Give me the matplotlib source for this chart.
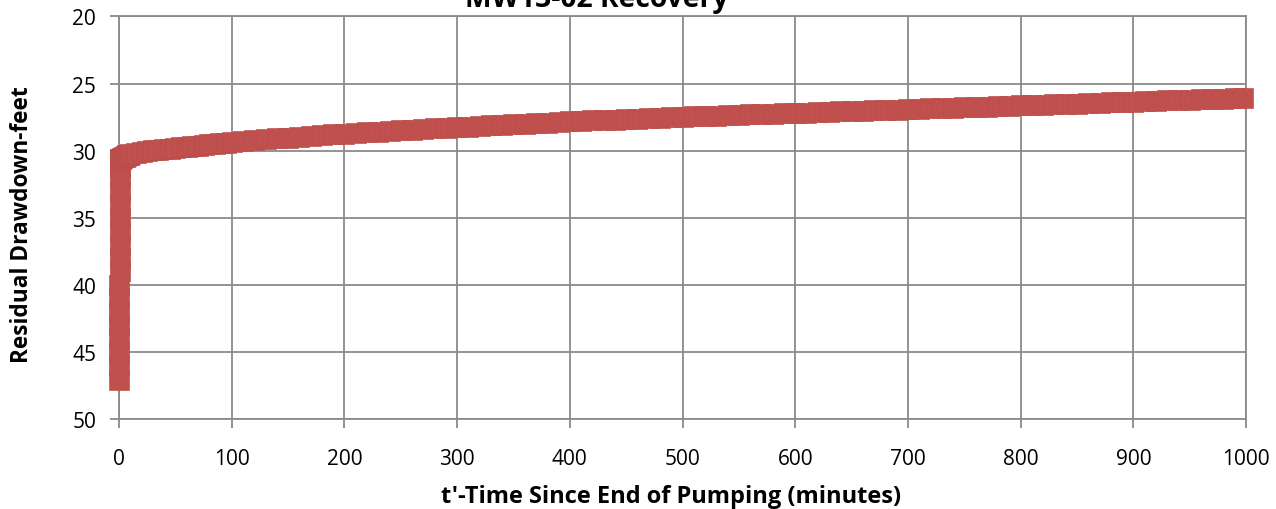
import numpy as np
import matplotlib.pyplot as plt

plt.rcParams['font.family'] = ['Open Sans', 'DejaVu Sans']

# recovery readings: time since pump off (min) and residual drawdown (ft)
t_early = [0.0, 0.05, 0.1, 0.15, 0.2, 0.25, 0.3, 0.35, 0.4, 0.45, 0.5,
           0.55, 0.6, 0.65, 0.7, 0.75, 0.8, 0.85]
s_early = [47.1, 46.0, 45.0, 44.0, 43.0, 42.0, 41.0, 40.0, 39.0, 38.0, 37.0,
           36.0, 35.0, 34.0, 33.0, 32.0, 31.2, 30.7]

t_first = [1, 2, 3, 4, 5, 6, 7, 8, 9, 10,
           15, 20, 25, 30, 35, 40, 45, 50, 55, 60,
           65, 70, 75, 80, 85, 90, 95]
s_first = [30.65, 30.60, 30.55, 30.50, 30.45, 30.40, 30.36, 30.32, 30.29, 30.25,
           30.17, 30.10, 30.04, 29.98, 29.93, 29.89, 29.84, 29.80, 29.75, 29.71,
           29.66, 29.62, 29.58, 29.53, 29.49, 29.45, 29.41]

t_late = list(range(100, 1000, 10)) + [997]
s_late = [29.37, 29.30, 29.23, 29.16, 29.09, 29.02, 28.96, 28.90, 28.84, 28.79,
          28.74, 28.69, 28.64, 28.58, 28.53, 28.48, 28.44, 28.39, 28.34, 28.30,
          28.25, 28.21, 28.16, 28.12, 28.08, 28.03, 27.99, 27.95, 27.91, 27.86,
          27.82, 27.78, 27.75, 27.71, 27.68, 27.64, 27.61, 27.57, 27.54, 27.50,
          27.47, 27.44, 27.41, 27.38, 27.36, 27.33, 27.30, 27.27, 27.24, 27.22,
          27.19, 27.16, 27.13, 27.10, 27.08, 27.05, 27.02, 26.99, 26.96, 26.94,
          26.91, 26.88, 26.85, 26.82, 26.80, 26.77, 26.74, 26.71, 26.68, 26.66,
          26.63, 26.60, 26.57, 26.54, 26.52, 26.49, 26.46, 26.43, 26.40, 26.38,
          26.35, 26.32, 26.29, 26.26, 26.24, 26.21, 26.18, 26.15, 26.12, 26.08,
          26.06]

t_min = t_early + t_first + t_late
drawdown = s_early + s_first + s_late

x_ticks = list(range(0, 1001, 100))
y_ticks = [20, 25, 30, 35, 40, 45, 50]

grid_col = '#8a8a8a'

fig = plt.figure(figsize=(12.76, 5.10), dpi=100)
ax = fig.add_axes([0.0933, 0.1765, 0.8832, 0.7892])

ax.plot(t_min, drawdown, 's', ms=14.2, mfc='#c0504d', mec='#ba4c49', mew=0.45,
        zorder=3, clip_on=False)

ax.set_xlim(0, 1000)
ax.set_ylim(50, 20)
ax.set_xticks(x_ticks)
ax.set_yticks(y_ticks)
ax.grid(True, color=grid_col, linewidth=1.3)
ax.set_axisbelow(True)
for sp in ax.spines.values():
    sp.set_color(grid_col)
    sp.set_linewidth(1.3)
ax.tick_params(direction='out', length=6.5, width=1.3, color=grid_col,
               labelsize=15)
ax.tick_params(axis='x', pad=14.5)
ax.tick_params(axis='y', pad=10)

fig.text(597 / 1276, 1 - 6.7 / 510, 'MW13-02 Recovery', ha='center',
         va='baseline', fontsize=20.3, fontweight='bold')
fig.text(671 / 1276, 1 - 503 / 510, "t'-Time Since End of Pumping (minutes)",
         ha='center', va='baseline', fontsize=17, fontweight='bold')
fig.text(22 / 1276, 1 - 225 / 510, 'Residual Drawdown-feet', rotation=90,
         ha='center', va='center', fontsize=16.3, fontweight='bold')

fig.savefig('out.png', dpi=100)
